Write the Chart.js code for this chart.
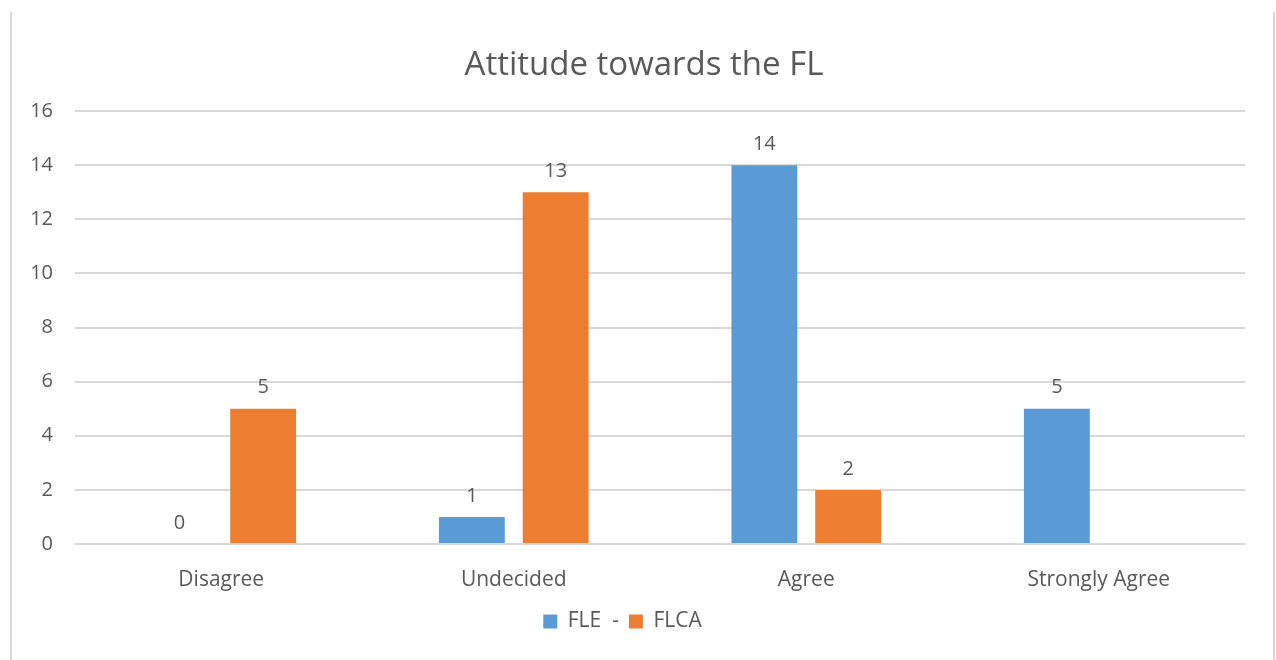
<!DOCTYPE html>
<html>
<head>
<meta charset="utf-8">
<script src="https://cdn.jsdelivr.net/npm/chart.js@4.4.0/dist/chart.umd.min.js"></script>
<style>
  body { margin: 0; background: #fff; }
  #frame {
    position: absolute; left: 10px; top: 12px; width: 1261px; height: 648px;
    border-left: 2px solid #d9d9d9; border-right: 2px solid #d9d9d9;
  }
  #wrap { position: absolute; left: 0; top: 0; width: 1276px; height: 660px; }
</style>
</head>
<body>
<div id="frame"></div>
<div id="wrap"><canvas id="attitude" width="1276" height="660"></canvas></div>
<script>
// categories and values
var categories = ["Disagree", "Undecided", "Agree", "Strongly Agree"];
var fleValues = [0, 1, 14, 5];
var flcaValues = [5, 13, 2, null];
var seriesNames = ["FLE  -", "FLCA"];
var chartTitle = "Attitude towards the FL";

var textColor = "#595959";
var fontFamily = "'Open Sans', sans-serif";

// title is centred on the whole frame, not on the legend's centre
var frameTitle = {
    id: "frameTitle",
    afterDraw: function(chart) {
        var ctx = chart.ctx;
        ctx.save();
        ctx.fillStyle = textColor;
        ctx.font = "33px " + fontFamily;
        ctx.textAlign = "center";
        ctx.textBaseline = "middle";
        ctx.fillText(chartTitle, 644, 66);
        ctx.restore();
    }
};

// draw the value above each bar
var valueLabels = {
    id: "valueLabels",
    afterDatasetsDraw: function(chart) {
        var ctx = chart.ctx;
        ctx.save();
        ctx.fillStyle = textColor;
        ctx.font = "20px " + fontFamily;
        ctx.textAlign = "center";
        ctx.textBaseline = "middle";
        chart.data.datasets.forEach(function(ds, i) {
            chart.getDatasetMeta(i).data.forEach(function(bar, j) {
                if (ds.data[j] === null) return;
                ctx.fillText(ds.data[j], bar.x, bar.y - 21);
            });
        });
        ctx.restore();
    }
};

new Chart("attitude", {
    type: "bar",
    data: {
        labels: categories,
        datasets: [{
                label: seriesNames[0],
                backgroundColor: "#5b9bd5",
                data: fleValues
            },
            {
                label: seriesNames[1],
                backgroundColor: "#ed7d31",
                data: flcaValues
            }
        ]
    },
    options: {
        responsive: false,
        animation: false,
        categoryPercentage: 0.573,
        barPercentage: 0.786,
        layout: {
            padding: { top: 111, left: 0, right: 31, bottom: 18 }
        },
        plugins: {
            title: { display: false },
            legend: {
                position: "bottom",
                labels: {
                    color: textColor,
                    font: { family: fontFamily, size: 21 },
                    boxWidth: 14,
                    boxHeight: 14,
                    padding: 10
                }
            },
            tooltip: { enabled: false }
        },
        scales: {
            x: {
                afterFit: function(scale) { scale.height = 57; },
                grid: { display: false },
                border: { display: true, color: "#d9d9d9", width: 2 },
                ticks: {
                    color: textColor,
                    font: { family: fontFamily, size: 21 },
                    padding: 15
                }
            },
            y: {
                min: 0,
                max: 16,
                afterFit: function(scale) { scale.width = 75; },
                grid: { color: "#d9d9d9", lineWidth: 2, drawTicks: false },
                border: { display: false },
                ticks: {
                    stepSize: 2,
                    color: textColor,
                    font: { family: fontFamily, size: 20 },
                    padding: 22
                }
            }
        }
    },
    plugins: [valueLabels, frameTitle]
});
</script>
</body>
</html>
